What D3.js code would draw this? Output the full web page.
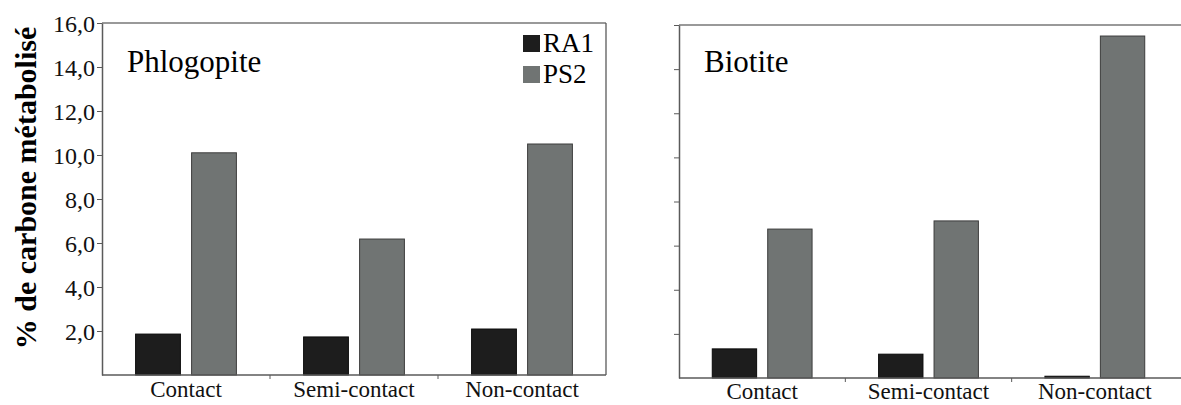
<!DOCTYPE html>
<html><head><meta charset="utf-8">
<script src="https://cdn.jsdelivr.net/npm/d3@7"></script>
<style>html,body{margin:0;padding:0;background:#fff;}svg{display:block;}</style>
</head><body>
<svg id="c" width="1181" height="405"></svg>
<script>
const categories = ["Contact", "Semi-contact", "Non-contact"];
const seriesNames = ["RA1", "PS2"];
const phlogopiteRA1 = [1.86, 1.73, 2.09];
const phlogopitePS2 = [10.1, 6.18, 10.5];
const biotiteRA1 = [1.32, 1.08, 0.08];
const biotitePS2 = [6.75, 7.12, 15.5];
const yTicks = [2, 4, 6, 8, 10, 12, 14, 16];
const yLabel = "% de carbone métabolisé";
const panelTitles = ["Phlogopite", "Biotite"];
const colors = {RA1: "#1d1d1d", PS2: "#707473"};
const strokes = {RA1: "#0a0a0a", PS2: "#3c3c3c"};
const FONT = 'Liberation Serif, DejaVu Serif, Noto Serif, Nimbus Roman, FreeSerif, Tinos, Times New Roman, Times, serif';
const svg = d3.select("#c");

function panel(opts) {
  const {x0, x1, yTop, yBot, title, ra1, ps2, showLabels, titleX, rightBorder, labelY} = opts;
  const g = svg.append("g");
  const x = d3.scaleBand().domain(categories).range([x0, x1]);
  const xs = d3.scaleBand().domain(seriesNames).range([0, x.bandwidth()]).paddingInner(0.2).paddingOuter(0.6);
  const y = d3.scaleLinear().domain([0, 16]).range([yBot, yTop]);
  const rows = [];
  categories.forEach((c, i) => {
    rows.push({c, s: "RA1", v: ra1[i]});
    rows.push({c, s: "PS2", v: ps2[i]});
  });
  g.selectAll("rect.bar").data(rows).join("rect").attr("class", "bar")
    .attr("x", d => x(d.c) + xs(d.s))
    .attr("width", xs.bandwidth())
    .attr("y", d => y(d.v))
    .attr("height", d => y(0) - y(d.v))
    .attr("fill", d => colors[d.s])
    .attr("stroke", d => strokes[d.s])
    .attr("stroke-width", 1);
  const lc = "#5a5a5a";
  g.append("line").attr("x1", x0).attr("x2", rightBorder ? x1 : 1181).attr("y1", yTop).attr("y2", yTop).attr("stroke", "#777").attr("stroke-width", 1.3);
  if (rightBorder) g.append("line").attr("x1", x1).attr("x2", x1).attr("y1", yTop).attr("y2", yBot).attr("stroke", lc).attr("stroke-width", 1.3);
  const ya = d3.axisLeft(y).tickValues(yTicks).tickSize(5).tickSizeOuter(0)
    .tickFormat(d => showLabels ? d3.format(".1f")(d).replace(".", ",") : "");
  const yg = g.append("g").attr("transform", `translate(${x0},0)`).call(ya);
  yg.select(".domain").attr("stroke", lc).attr("stroke-width", 1.5);
  yg.selectAll(".tick line").attr("stroke", lc);
  yg.selectAll(".tick text").attr("font-family", FONT).attr("font-size", 24).attr("fill", "#111").attr("x", -7).attr("dy", "0.36em");
  const xa = d3.axisBottom(x).tickSize(0).tickPadding(0);
  const xg = g.append("g").attr("transform", `translate(0,${yBot})`).call(xa);
  xg.select(".domain").remove();
  g.append("line").attr("x1", x0).attr("x2", rightBorder ? x1 : 1181).attr("y1", yBot).attr("y2", yBot).attr("stroke", lc).attr("stroke-width", 1.5);
  xg.selectAll(".tick text").attr("font-family", FONT).attr("font-size", 23).attr("fill", "#111").attr("y", labelY - yBot).attr("dy", 0);
  g.selectAll("line.sep").data(categories.slice(1)).join("line").attr("class", "sep")
    .attr("x1", d => x(d)).attr("x2", d => x(d)).attr("y1", yBot).attr("y2", yBot + 4)
    .attr("stroke", lc);
  g.append("text").attr("x", titleX).attr("y", 72).attr("font-family", FONT).attr("font-size", 31).attr("fill", "#000").text(title);
  return g;
}

panel({x0: 102, x1: 606, yTop: 23, yBot: 375, title: panelTitles[0], ra1: phlogopiteRA1, ps2: phlogopitePS2, showLabels: true, titleX: 127, rightBorder: true, labelY: 397});
panel({x0: 679, x1: 1178, yTop: 25, yBot: 378, title: panelTitles[1], ra1: biotiteRA1, ps2: biotitePS2, showLabels: false, titleX: 704, rightBorder: false, labelY: 399});

svg.append("text").attr("transform", "translate(36,188) rotate(-90)")
  .attr("text-anchor", "middle").attr("font-family", FONT).attr("font-weight", "bold")
  .attr("font-size", 30).attr("fill", "#000").text(yLabel);

const leg = svg.append("g");
seriesNames.forEach((s, i) => {
  const yy = 35 + i * 31;
  leg.append("rect").attr("x", 523).attr("y", yy).attr("width", 17).attr("height", 17).attr("fill", colors[s]);
  leg.append("text").attr("x", 543).attr("y", yy + 17).attr("font-family", FONT).attr("font-size", 27).attr("fill", "#000").text(s);
});
</script>
</body></html>
